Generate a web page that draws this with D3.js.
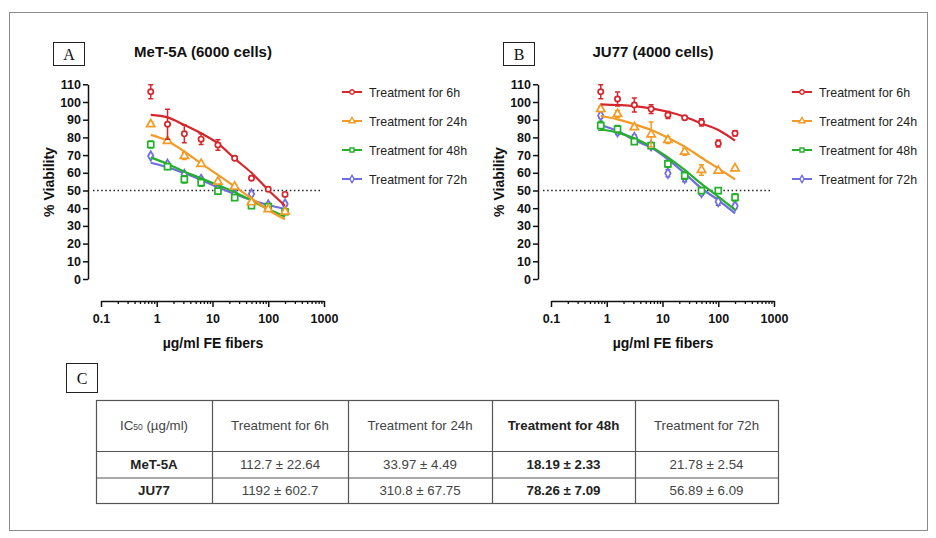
<!DOCTYPE html>
<html>
<head>
<meta charset="utf-8">
<script src="https://cdn.jsdelivr.net/npm/d3@7"></script>
<style>
  body { margin: 0; background: #fff; }
  svg { display: block; }
  .tick text { font-family: "Liberation Sans Narrow", "Arial Narrow", "Liberation Sans", Arial, sans-serif; font-weight: bold; font-size: 12.5px; fill: #111; }
</style>
</head>
<body>
<div id="chart"></div>
<script>
// concentrations (two-fold dilution, µg/ml)
const conc = [0.78, 1.56, 3.125, 6.25, 12.5, 25, 50, 100, 200];
const seriesNames = ["Treatment for 6h", "Treatment for 24h", "Treatment for 48h", "Treatment for 72h"];
const seriesColors = ["#d7262c", "#f29b25", "#25b02c", "#6e6ee0"];

// panel A: MeT-5A
const metMean = [
  [105.8, 87.4, 82.0, 79.0, 75.7, 68.2, 56.9, 50.7, 47.8],
  [87.4, 78.0, 69.5, 65.0, 55.0, 52.2, 43.3, 39.4, 38.0],
  [76.0, 63.5, 56.3, 54.4, 49.7, 46.0, 41.4, 40.9, 38.0],
  [69.5, 64.8, 59.1, 56.3, 50.7, 47.8, 48.0, 41.8, 42.4]
];
const metErr = [
  [4, 8.5, 5, 3, 3, 1, 1, 1, 1],
  [1, 1, 2, 1, 1, 1, 1, 1, 1],
  [2, 1.5, 2, 2, 1.5, 1, 1, 1, 1.5],
  [1, 1, 1, 1, 1, 1, 1, 1, 1]
];
const metFit = [
  [92.7, 91.3, 87.0, 82.3, 76.6, 68.0, 60.0, 50.3, 41.4],
  [81.4, 78.0, 72.0, 65.3, 58.8, 52.2, 45.6, 39.0, 33.7],
  [68.7, 65.0, 60.6, 56.9, 53.1, 49.0, 44.3, 39.5, 35.2],
  [65.7, 63.1, 59.7, 56.0, 51.8, 48.0, 44.6, 41.8, 39.5]
];

// panel B: JU77
const juMean = [
  [105.8, 101.7, 98.3, 96.0, 92.7, 91.1, 88.5, 76.6, 82.3],
  [96.0, 93.2, 85.7, 81.7, 78.5, 71.9, 61.6, 61.2, 62.5],
  [86.6, 84.7, 77.6, 75.3, 65.0, 58.4, 49.9, 49.9, 46.1],
  [92.3, 83.2, 80.0, 75.3, 59.7, 56.9, 48.8, 43.7, 41.2]
];
const juErr = [
  [4, 4, 4, 2.5, 2, 1, 2, 2, 1.5],
  [1.5, 2, 1, 7, 2, 2, 3, 1, 1],
  [2.5, 2, 1.5, 1.5, 2, 2, 1.5, 1.5, 2],
  [1.5, 1.5, 1.5, 1.5, 2, 2, 1.5, 2, 1.5]
];
const juFit = [
  [98.7, 98.3, 97.7, 96.4, 94.5, 91.7, 87.9, 84.2, 78.2],
  [92.1, 90.2, 87.4, 84.2, 79.8, 74.8, 68.5, 62.5, 56.3],
  [84.6, 82.7, 79.5, 74.8, 68.7, 61.6, 53.7, 46.5, 39.0],
  [87.0, 83.6, 78.5, 74.2, 67.6, 59.7, 51.2, 44.6, 37.1]
];

const panelTitles = ["MeT-5A (6000 cells)", "JU77 (4000 cells)"];
const panelLetters = ["A", "B"];
const yTicks = [0, 10, 20, 30, 40, 50, 60, 70, 80, 90, 100, 110];
const xTicks = [0.1, 1, 10, 100, 1000];

// table C
const tableHeader = ["IC50 (µg/ml)", "Treatment for 6h", "Treatment for 24h", "Treatment for 48h", "Treatment for 72h"];
const tableRowNames = ["MeT-5A", "JU77"];
const tableMet = ["112.7 ± 22.64", "33.97 ± 4.49", "18.19 ± 2.33", "21.78 ± 2.54"];
const tableJu = ["1192 ± 602.7", "310.8 ± 67.75", "78.26 ± 7.09", "56.89 ± 6.09"];

const width = 936, height = 538;
const narrow = '"Liberation Sans Narrow", "Arial Narrow", "Liberation Sans", Arial, sans-serif';
const sans = '"Liberation Sans", Arial, sans-serif';
const serif = '"Liberation Serif", "Times New Roman", serif';

const svg = d3.select("#chart").append("svg")
  .attr("width", width)
  .attr("height", height);

// outer frame
svg.append("rect")
  .attr("x", 9.5).attr("y", 12.5)
  .attr("width", 918).attr("height", 518)
  .attr("fill", "none").attr("stroke", "#8a8a8a").attr("stroke-width", 1);

const x = d3.scaleLog().domain([0.1, 1000]).range([101, 324]);
const y = d3.scaleLinear().domain([0, 110]).range([279, 84.3]);

function letterBox(g, bx, by, w, h, letter) {
  g.append("rect")
    .attr("x", bx + 0.5).attr("y", by + 0.5)
    .attr("width", w).attr("height", h)
    .attr("fill", "#fff").attr("stroke", "#222").attr("stroke-width", 1);
  g.append("text")
    .attr("x", bx + w / 2 + 0.5).attr("y", by + h / 2 + 6)
    .attr("text-anchor", "middle")
    .style("font-family", serif).style("font-size", "16px")
    .attr("fill", "#111")
    .text(letter);
}

function drawPanel(idx, means, errs, fits) {
  let g = svg.append("g").attr("transform", `translate(${idx * 450},0)`);

  letterBox(g, 53, 42, 31, 23, panelLetters[idx]);

  g.append("text")
    .attr("x", 203).attr("y", 57)
    .attr("text-anchor", "middle")
    .style("font-family", narrow).style("font-weight", "bold").style("font-size", "15px")
    .attr("fill", "#111")
    .text(panelTitles[idx]);

  // y axis
  let yAxis = g.append("g")
    .attr("transform", "translate(88,0)")
    .call(d3.axisLeft(y).tickValues(yTicks).tickSize(5).tickSizeOuter(0).tickPadding(2));
  yAxis.select(".domain").attr("stroke", "#111").attr("stroke-width", 1.5);
  yAxis.selectAll(".tick line").attr("stroke", "#111").attr("stroke-width", 1.5);

  g.append("text")
    .attr("transform", "translate(54,182) rotate(-90)")
    .attr("text-anchor", "middle")
    .style("font-family", narrow).style("font-weight", "bold").style("font-size", "14px")
    .attr("fill", "#111")
    .text("% Viability");

  // x axis (log) with minor ticks
  let minor = [];
  for (let d = 0.1; d < 1000; d *= 10) {
    for (let k = 2; k <= 9; k++) minor.push(d * k);
  }
  let xMinor = g.append("g")
    .attr("transform", "translate(0,301)")
    .call(d3.axisBottom(x).tickValues(minor).tickSize(3).tickFormat(""));
  xMinor.select(".domain").remove();
  xMinor.selectAll(".tick line").attr("stroke", "#111").attr("stroke-width", 1.3);

  let xAxis = g.append("g")
    .attr("transform", "translate(0,301)")
    .call(d3.axisBottom(x).tickValues(xTicks).tickSize(6).tickSizeOuter(0).tickPadding(7)
      .tickFormat(d => String(d)));
  xAxis.select(".domain").attr("stroke", "#111").attr("stroke-width", 1.5);
  xAxis.selectAll(".tick line").attr("stroke", "#111").attr("stroke-width", 1.5);

  g.append("text")
    .attr("x", 213).attr("y", 348)
    .attr("text-anchor", "middle")
    .style("font-family", narrow).style("font-weight", "bold").style("font-size", "14px")
    .attr("fill", "#111")
    .text("µg/ml FE fibers");

  // 50% reference line
  g.append("line")
    .attr("x1", 93).attr("x2", 322)
    .attr("y1", y(50)).attr("y2", y(50))
    .attr("stroke", "#222").attr("stroke-width", 1.6)
    .attr("stroke-dasharray", "1.5,2.6");

  let line = d3.line()
    .x((d, i) => x(conc[i]))
    .y(d => y(d))
    .curve(d3.curveMonotoneX);

  // draw from last series to first so red ends up on top
  for (let s = 3; s >= 0; s--) {
    let color = seriesColors[s];
    let sg = g.append("g");

    sg.append("path")
      .attr("d", line(fits[s]))
      .attr("fill", "none")
      .attr("stroke", color)
      .attr("stroke-width", 2.2);

    let pts = means[s].map((v, i) => ({ c: conc[i], v: v, e: errs[s][i] }));

    sg.selectAll(".err")
      .data(pts)
      .enter().append("path")
      .attr("d", d => {
        let px = x(d.c), y1 = y(d.v + d.e), y2 = y(d.v - d.e);
        return `M${px},${y1}V${y2}M${px - 2.5},${y1}H${px + 2.5}M${px - 2.5},${y2}H${px + 2.5}`;
      })
      .attr("fill", "none")
      .attr("stroke", color)
      .attr("stroke-width", 1.5);

    sg.selectAll(".mk")
      .data(pts)
      .enter().append("path")
      .attr("transform", d => `translate(${x(d.c)},${y(d.v)})`)
      .attr("d", markerPath(s))
      .attr("fill", "#fff")
      .attr("stroke", color)
      .attr("stroke-width", 1.7);
  }

  // legend
  seriesNames.forEach((name, s) => {
    let ly = 92 + s * 29;
    let lg = g.append("g").attr("transform", `translate(342,${ly})`);
    lg.append("line")
      .attr("x1", 0).attr("x2", 20)
      .attr("stroke", seriesColors[s]).attr("stroke-width", 2);
    lg.append("path")
      .attr("transform", "translate(10,0)")
      .attr("d", legendMarker(s))
      .attr("fill", "#fff")
      .attr("stroke", seriesColors[s]).attr("stroke-width", 1.4);
    lg.append("text")
      .attr("x", 27).attr("y", 4.5)
      .style("font-family", narrow).style("font-size", "12.4px")
      .attr("fill", "#222")
      .text(name);
  });
}

function markerPath(s) {
  let sizes = [22, 30, 36, 26];
  let types = [d3.symbolCircle, d3.symbolTriangle, d3.symbolSquare, d3.symbolDiamond];
  return d3.symbol().type(types[s]).size(sizes[s])();
}

function legendMarker(s) {
  let types = [d3.symbolCircle, d3.symbolTriangle, d3.symbolSquare, d3.symbolDiamond];
  return d3.symbol().type(types[s]).size(16)();
}

drawPanel(0, metMean, metErr, metFit);
drawPanel(1, juMean, juErr, juFit);

// table C
letterBox(svg, 66, 363, 31, 29, "C");

const colX = [96, 212, 348, 492, 635, 778];
const rowY = [400, 451, 477.5, 503];
const boldCols = [3];

let tg = svg.append("g");
tg.append("rect")
  .attr("x", colX[0] + 0.5).attr("y", rowY[0] + 0.5)
  .attr("width", colX[5] - colX[0]).attr("height", rowY[3] - rowY[0])
  .attr("fill", "none").attr("stroke", "#555").attr("stroke-width", 1.2);
colX.slice(1, 5).forEach(cx => {
  tg.append("line")
    .attr("x1", cx + 0.5).attr("x2", cx + 0.5)
    .attr("y1", rowY[0]).attr("y2", rowY[3])
    .attr("stroke", "#555").attr("stroke-width", 1.2);
});
rowY.slice(1, 3).forEach(ry => {
  tg.append("line")
    .attr("x1", colX[0]).attr("x2", colX[5])
    .attr("y1", ry + 0.5).attr("y2", ry + 0.5)
    .attr("stroke", "#555").attr("stroke-width", 1.2);
});

function cellText(col, row, txt, bold) {
  let cx = (colX[col] + colX[col + 1]) / 2;
  let cy = (rowY[row] + rowY[row + 1]) / 2 + 4.8;
  return tg.append("text")
    .attr("x", cx).attr("y", cy)
    .attr("text-anchor", "middle")
    .style("font-family", sans).style("font-size", "13.3px")
    .style("font-weight", bold ? "bold" : "normal")
    .attr("fill", bold ? "#222" : "#444")
    .text(txt);
}

// header row
tableHeader.forEach((h, c) => {
  if (c === 0) {
    let t = cellText(0, 0, "", false);
    t.append("tspan").text("IC");
    t.append("tspan").style("font-size", "8.5px").text("50");
    t.append("tspan").text(" (µg/ml)");
  } else {
    cellText(c, 0, h, boldCols.includes(c));
  }
});
// data rows
[tableMet, tableJu].forEach((vals, r) => {
  cellText(0, r + 1, tableRowNames[r], true);
  vals.forEach((v, c) => cellText(c + 1, r + 1, v, boldCols.includes(c + 1)));
});
</script>
</body>
</html>
